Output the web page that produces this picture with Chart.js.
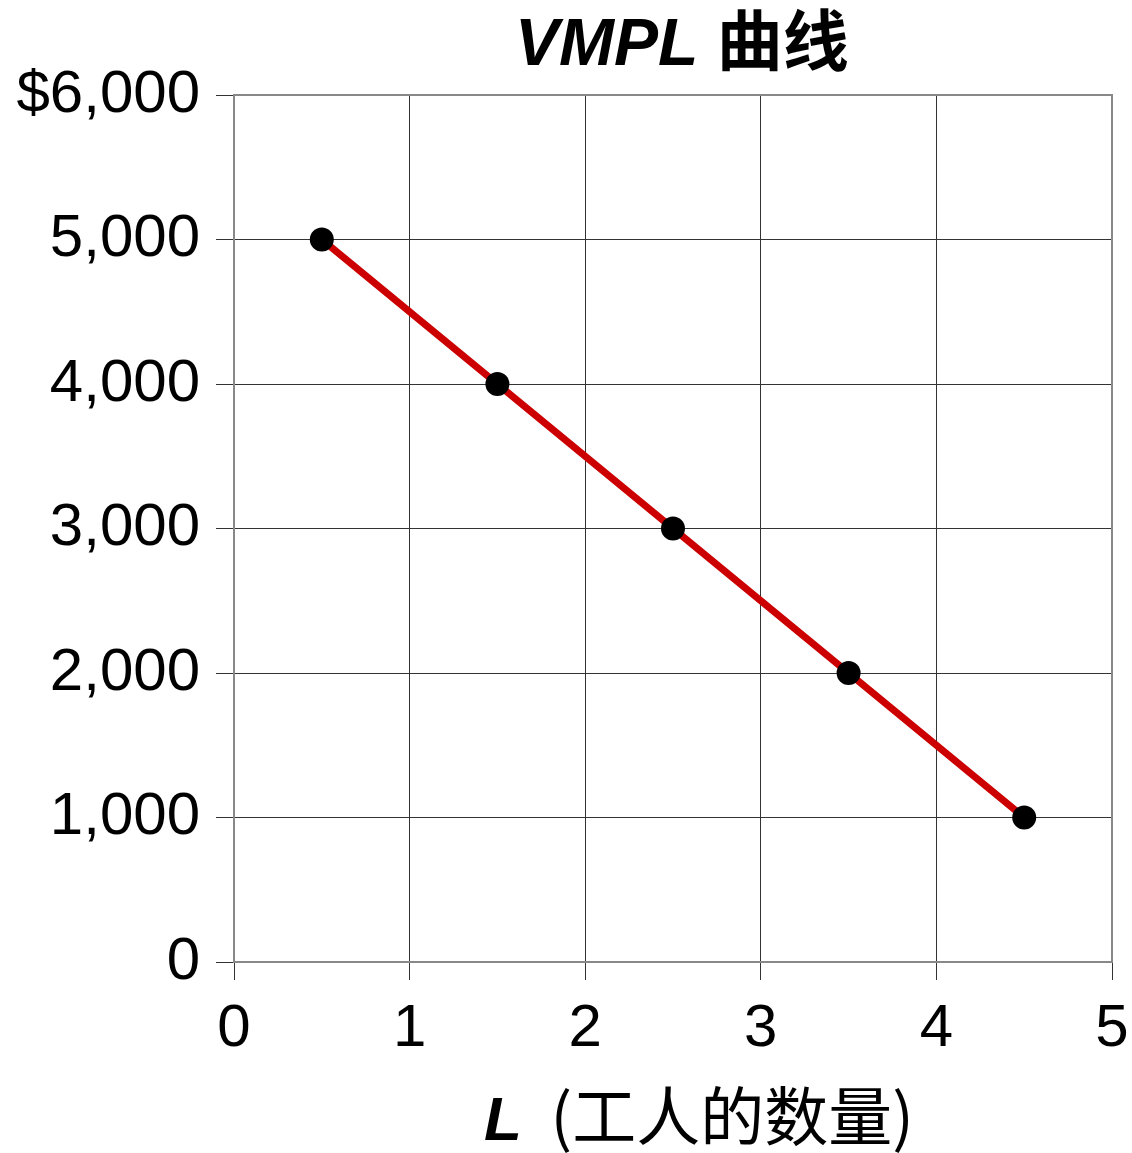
<!DOCTYPE html>
<html>
<head>
<meta charset="utf-8">
<script src="https://cdn.jsdelivr.net/npm/chart.js@4"></script>
<style>
  html, body { margin: 0; padding: 0; background: #fff; }
  #wrap { width: 1132px; height: 1153px; }
</style>
</head>
<body>
<div id="wrap"><canvas id="myChart" width="1132" height="1153"></canvas></div>
<script>
var workers = [0.5, 1.5, 2.5, 3.5, 4.5];
var vmpl = [5000, 4000, 3000, 2000, 1000];
var xTicks = [0, 1, 2, 3, 4, 5];
var yTicks = [0, 1000, 2000, 3000, 4000, 5000, 6000];

var latin = '"Liberation Sans", Arial, sans-serif';
var cjk = '"Noto Sans CJK SC", "Liberation Sans", sans-serif';

// draws the title, axis title and the grey frame
var framePlugin = {
    id: 'frame',
    afterDraw: function (chart) {
        var ctx = chart.ctx;
        var a = chart.chartArea;
        ctx.save();
        ctx.strokeStyle = '#888888';
        ctx.lineWidth = 2;
        ctx.strokeRect(a.left, a.top, a.right - a.left, a.bottom - a.top);

        ctx.fillStyle = '#000';
        ctx.textBaseline = 'alphabetic';
        ctx.textAlign = 'left';

        // top title
        var p1 = 'VMPL ', p2 = '曲线';
        ctx.font = 'italic bold 66px ' + latin;
        var w1 = ctx.measureText(p1).width;
        ctx.font = 'bold 66px ' + cjk;
        var w2 = ctx.measureText(p2).width;
        var x = 515;
        ctx.font = 'italic bold 66px ' + latin;
        ctx.fillText(p1, x, 65);
        ctx.font = 'bold 66px ' + cjk;
        ctx.fillText(p2, x + w1, 65);

        // x axis title
        var q1 = 'L', q2 = '  (工人的数量)';
        ctx.font = 'italic bold 62px ' + latin;
        var v1 = ctx.measureText(q1).width;
        x = 484;
        ctx.fillText(q1, x, 1140);
        ctx.font = '64px ' + cjk;
        ctx.fillText(q2, x + v1, 1140);
        ctx.restore();
    }
};

var ctx = document.getElementById('myChart');
var myChart = new Chart(ctx, {
    type: 'line',
    data: {
        datasets: [{
            label: 'VMPL',
            data: workers.map(function (w, i) { return { x: w, y: vmpl[i] }; }),
            borderColor: '#cc0000',
            borderWidth: 7,
            pointBackgroundColor: '#000',
            pointBorderColor: '#000',
            pointRadius: 12,
            pointBorderWidth: 0,
            tension: 0
        }]
    },
    options: {
        responsive: false,
        animation: false,
        layout: { padding: { top: 95, right: 20, left: 0, bottom: 0 } },
        plugins: {
            legend: { display: false },
            tooltip: { enabled: false },
            title: { display: false }
        },
        scales: {
            x: {
                type: 'linear',
                min: 0,
                max: 5,
                afterBuildTicks: function (s) { s.ticks = xTicks.map(function (v) { return { value: v }; }); },
                afterFit: function (s) { s.height = 191; s.paddingLeft = 0; s.paddingRight = 0; },
                grid: { color: '#333', lineWidth: 1, tickLength: 18, tickColor: '#333' },
                border: { display: false },
                ticks: {
                    color: '#000',
                    font: { family: latin, size: 60 },
                    padding: 13,
                    maxRotation: 0
                }
            },
            y: {
                type: 'linear',
                min: 0,
                max: 6000,
                afterBuildTicks: function (s) { s.ticks = yTicks.map(function (v) { return { value: v }; }); },
                afterFit: function (s) { s.width = 234; s.paddingTop = 0; s.paddingBottom = 0; },
                grid: { color: '#333', lineWidth: 1, tickLength: 18, tickColor: '#333' },
                border: { display: false },
                ticks: {
                    color: '#000',
                    font: { family: latin, size: 60 },
                    padding: 16,
                    callback: function (v) {
                        var s = v.toLocaleString('en-US');
                        return v === 6000 ? '$' + s : s;
                    }
                }
            }
        }
    },
    plugins: [framePlugin]
});
</script>
</body>
</html>
